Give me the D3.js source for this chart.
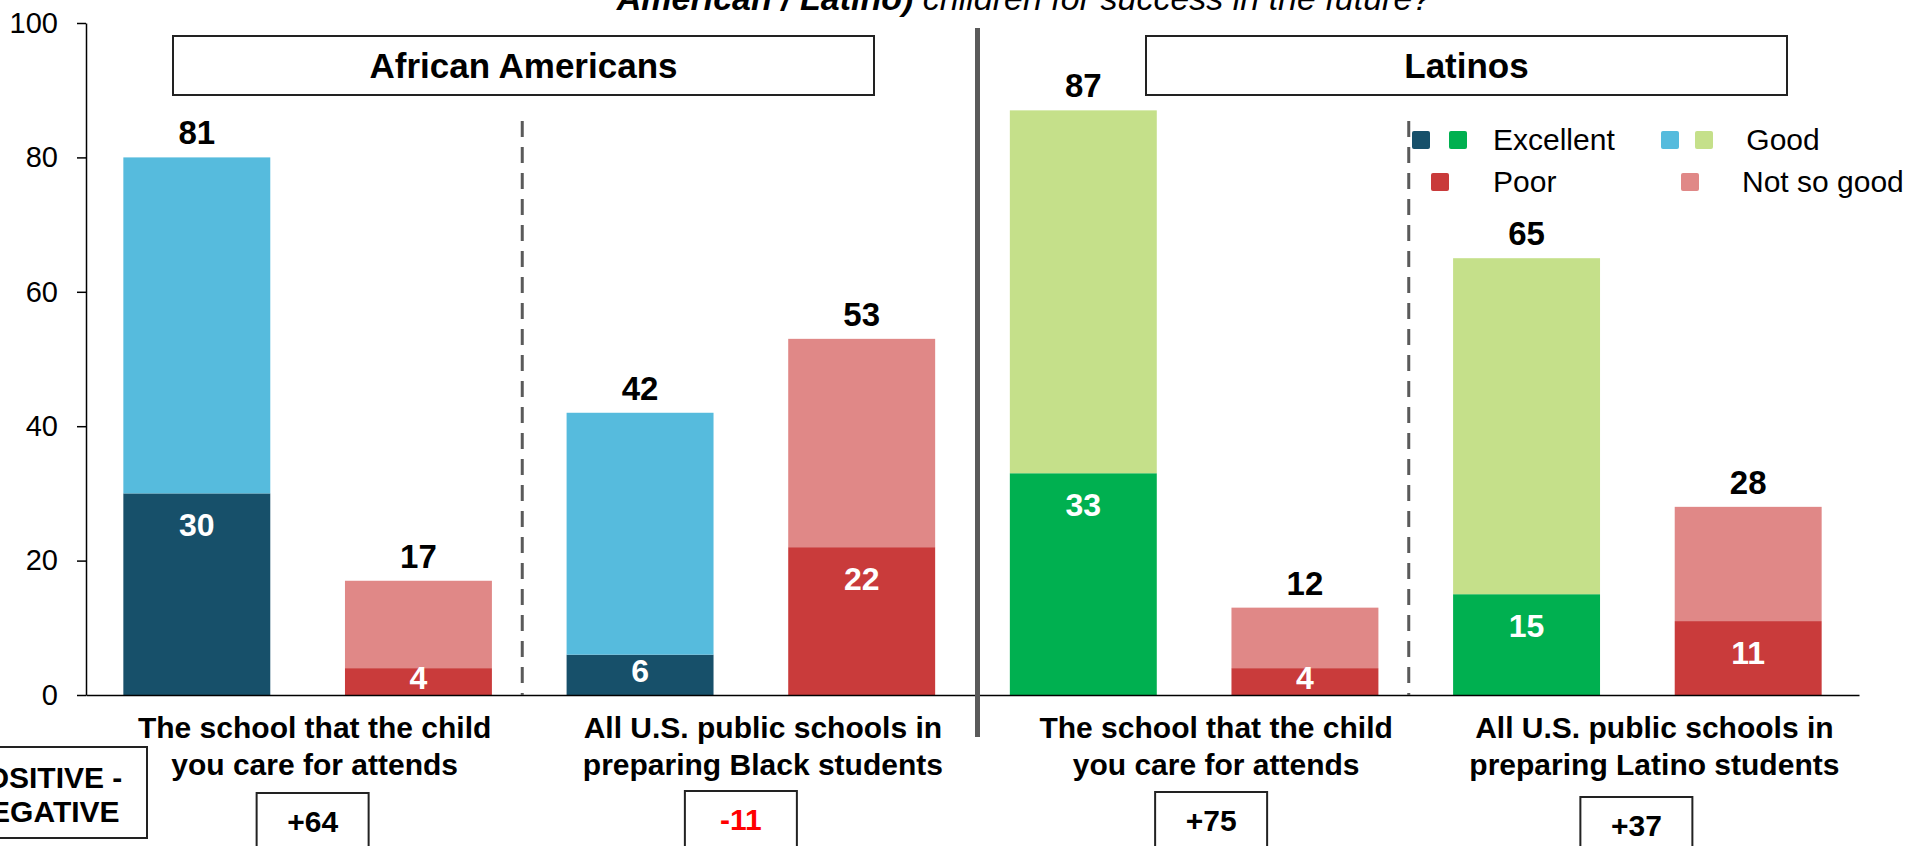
<!DOCTYPE html>
<html>
<head>
<meta charset="utf-8">
<script src="https://cdnjs.cloudflare.com/ajax/libs/d3/7.8.5/d3.min.js"></script>
<style>
  html, body { margin: 0; padding: 0; background: #fff; }
  svg { display: block; font-family: Arial, 'Liberation Sans', sans-serif; }
</style>
</head>
<body>
<svg id="chart"></svg>
<script>
;(() => {

    const width = 1909;
    const height = 846;

    // ---- data ----
    const groups = ['African Americans', 'Latinos'];
    const barGroup = [0, 0, 0, 0, 1, 1, 1, 1];
    const barSide = ['pos', 'neg', 'pos', 'neg', 'pos', 'neg', 'pos', 'neg'];
    // Excellent / Poor part of each bar
    const strongValues = [30, 4, 6, 22, 33, 4, 15, 11];
    // Good / Not so good part of each bar (as drawn)
    const softValues = [50, 13, 36, 31, 54, 9, 50, 17];
    const totalLabels = [81, 17, 42, 53, 87, 12, 65, 28];
    const netLabels = ['+64', '-11', '+75', '+37'];
    const categoryLines = [
        ['The school that the child', 'you care for attends'],
        ['All U.S. public schools in', 'preparing Black students'],
        ['The school that the child', 'you care for attends'],
        ['All U.S. public schools in', 'preparing Latino students']
    ];
    const yTicks = [0, 20, 40, 60, 80, 100];
    const legendItems = [
        { label: 'Excellent', colors: ['#17506a', '#00b050'] },
        { label: ' Good', colors: ['#56bbdd', '#c5e08a'] },
        { label: 'Poor', colors: ['#c93b3b'] },
        { label: 'Not so good', colors: ['#e08887'] }
    ];

    // colours per group: [strong, soft] for positive and negative bars
    const palette = {
        pos: [['#17506a', '#56bbdd'], ['#00b050', '#c5e08a']],
        neg: [['#c93b3b', '#e08887'], ['#c93b3b', '#e08887']]
    };

    const svg = d3.select('#chart')
        .attr('width', width)
        .attr('height', height);

    const x = d3.scaleBand()
        .domain(d3.range(strongValues.length))
        .range([86, 1859])
        .paddingInner(0.337)
        .paddingOuter(0.1685);

    const y = d3.scaleLinear()
        .domain([0, 100])
        .range([695, 23]);

    // title line (first line sits above the frame)
    const title = svg.append('text')
        .attr('x', 1024)
        .attr('y', 10)
        .attr('text-anchor', 'middle')
        .attr('font-size', 34)
        .attr('font-style', 'italic');
    title.append('tspan').attr('font-weight', 'bold').text('American / Latino)');
    title.append('tspan').text(' children for success in the future?');

    // bars
    const bars = svg.append('g').attr('class', 'bars');
    strongValues.forEach((v, i) => {
        const cols = palette[barSide[i]][barGroup[i]];
        const top = v + softValues[i];
        bars.append('rect')
            .attr('x', x(i))
            .attr('width', x.bandwidth())
            .attr('y', y(v))
            .attr('height', y(0) - y(v))
            .attr('fill', cols[0]);
        bars.append('rect')
            .attr('x', x(i))
            .attr('width', x.bandwidth())
            .attr('y', y(top))
            .attr('height', y(v) - y(top))
            .attr('fill', cols[1]);

        // inner label for strong part
        const segTop = y(v);
        const cy = Math.min(segTop + 31, (segTop + y(0)) / 2 - 4);
        bars.append('text')
            .attr('x', x(i) + x.bandwidth() / 2)
            .attr('y', cy)
            .attr('dy', '0.36em')
            .attr('text-anchor', 'middle')
            .attr('font-size', 32)
            .attr('font-weight', 'bold')
            .attr('fill', '#fff')
            .text(v);

        // total label
        bars.append('text')
            .attr('x', x(i) + x.bandwidth() / 2)
            .attr('y', y(top) - 13)
            .attr('text-anchor', 'middle')
            .attr('font-size', 33)
            .attr('font-weight', 'bold')
            .attr('fill', '#000')
            .text(totalLabels[i]);
    });

    // axes
    const yAxis = svg.append('g')
        .attr('transform', 'translate(86,0)')
        .call(d3.axisLeft(y).tickValues(yTicks).tickSize(9).tickPadding(19).tickSizeOuter(0));
    yAxis.selectAll('text')
        .attr('font-size', 29)
        .attr('font-family', 'Arial, "Liberation Sans", sans-serif')
        .attr('fill', '#000');
    yAxis.selectAll('line, path').attr('stroke', '#000').attr('stroke-width', 1.5);

    const xAxis = svg.append('g')
        .attr('transform', 'translate(0,' + y(0) + ')')
        .call(d3.axisBottom(x).tickSize(0).tickSizeOuter(0).tickFormat(''));
    xAxis.select('path').attr('stroke', '#000').attr('stroke-width', 1.5);

    // separators
    const gapMid = (a, b) => (x(a) + x.bandwidth() + x(b)) / 2;
    svg.append('line')
        .attr('x1', gapMid(3, 4) + 5).attr('x2', gapMid(3, 4) + 5)
        .attr('y1', 28).attr('y2', 737)
        .attr('stroke', '#5a5a5a').attr('stroke-width', 5);
    [[1, 2], [5, 6]].forEach(([a, b]) => {
        svg.append('line')
            .attr('x1', gapMid(a, b) - 7).attr('x2', gapMid(a, b) - 7)
            .attr('y1', 121).attr('y2', y(0))
            .attr('stroke', '#5a5a5a').attr('stroke-width', 3)
            .attr('stroke-dasharray', '16,10');
    });

    // group header boxes
    const headerBoxes = [[173, 874], [1146, 1787]];
    groups.forEach((g, i) => {
        const [x0, x1] = headerBoxes[i];
        svg.append('rect')
            .attr('x', x0).attr('y', 36)
            .attr('width', x1 - x0).attr('height', 59)
            .attr('fill', '#fff').attr('stroke', '#222').attr('stroke-width', 2);
        svg.append('text')
            .attr('x', (x0 + x1) / 2).attr('y', 78)
            .attr('text-anchor', 'middle')
            .attr('font-size', 35)
            .attr('font-weight', 'bold')
            .text(g);
    });

    // legend
    const legend = svg.append('g').attr('class', 'legend');
    const legendPos = [
        { sx: [1412, 1449], tx: 1493, y: 131 },
        { sx: [1661, 1695], tx: 1738, y: 131 },
        { sx: [1431], tx: 1493, y: 173 },
        { sx: [1681], tx: 1742, y: 173 }
    ];
    legendItems.forEach((item, i) => {
        const p = legendPos[i];
        item.colors.forEach((c, j) => {
            legend.append('rect')
                .attr('x', p.sx[j]).attr('y', p.y)
                .attr('width', 18).attr('height', 18)
                .attr('rx', 2)
                .attr('fill', c);
        });
        legend.append('text')
            .attr('x', p.tx).attr('y', p.y + 19)
            .attr('font-size', 30)
            .attr('xml:space', 'preserve')
            .style('white-space', 'pre')
            .text(item.label);
    });

    // category labels below axis
    const labelNudge = [7, 12, 22, 17];
    const boxNudge = [5, -10, 17, -1];
    const boxTops = [793, 791, 792, 797];
    categoryLines.forEach((lines, k) => {
        const cx = (x(2 * k) + x(2 * k + 1) + x.bandwidth()) / 2;
        lines.forEach((ln, j) => {
            svg.append('text')
                .attr('x', cx + labelNudge[k])
                .attr('y', 738 + j * 37)
                .attr('text-anchor', 'middle')
                .attr('font-size', 30)
                .attr('font-weight', 'bold')
                .text(ln);
        });
        const bx = cx + boxNudge[k];
        svg.append('rect')
            .attr('x', bx - 56).attr('y', boxTops[k])
            .attr('width', 112).attr('height', 80)
            .attr('fill', '#fff').attr('stroke', '#222').attr('stroke-width', 2);
        svg.append('text')
            .attr('x', bx).attr('y', boxTops[k] + 39)
            .attr('text-anchor', 'middle')
            .attr('font-size', 30)
            .attr('font-weight', 'bold')
            .attr('fill', netLabels[k].startsWith('-') ? '#ff0000' : '#000')
            .text(netLabels[k]);
    });

    // positive - negative key box
    svg.append('rect')
        .attr('x', -58).attr('y', 747)
        .attr('width', 205).attr('height', 91)
        .attr('fill', '#fff').attr('stroke', '#222').attr('stroke-width', 2);
    ['POSITIVE -', 'NEGATIVE'].forEach((t, j) => {
        svg.append('text')
            .attr('x', 44).attr('y', 788 + j * 34)
            .attr('text-anchor', 'middle')
            .attr('font-size', 30)
            .attr('font-weight', 'bold')
            .text(t);
    });

})();
</script>
</body>
</html>
